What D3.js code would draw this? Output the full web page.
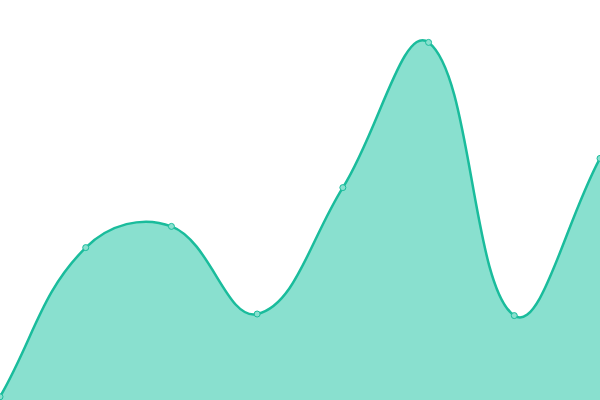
<!DOCTYPE html>
<html lang="en">
<head>
    <meta charset="utf-8">
    <title>Area chart</title>
    <script src="https://d3js.org/d3.v7.min.js"></script>
    <style>
        html, body { margin: 0; padding: 0; background: #fff; }
        svg { display: block; }
    </style>
</head>
<body>
    <svg width="600" height="400" id="chart"></svg>
    <script>
        // values, on a 0-100 scale
        var steps = [0, 1, 2, 3, 4, 5, 6, 7];
        var values = [0.8, 38.1, 43.4, 21.5, 53.1, 89.4, 21.1, 60.4];

        // spline with tension 0.4, control points weighted by the distance to the neighbours
        function SplineCurve(context) { this._context = context; }
        SplineCurve.prototype = {
            areaStart: function () { this._line = 0; },
            areaEnd: function () { this._line = NaN; },
            lineStart: function () { this._x = []; this._y = []; },
            point: function (x, y) { this._x.push(+x); this._y.push(+y); },
            lineEnd: function () {
                var x = this._x, y = this._y, n = x.length, ctx = this._context, t = 0.4, cp = [], i;
                if (n) {
                    if (this._line) ctx.lineTo(x[0], y[0]); else ctx.moveTo(x[0], y[0]);
                    for (i = 0; i < n; i++) {
                        var a = Math.max(i - 1, 0), b = Math.min(i + 1, n - 1);
                        var d01 = Math.hypot(x[i] - x[a], y[i] - y[a]),
                            d12 = Math.hypot(x[b] - x[i], y[b] - y[i]);
                        var fa = t * (d01 / (d01 + d12) || 0),
                            fb = t * (d12 / (d01 + d12) || 0);
                        cp.push({
                            px: x[i] - fa * (x[b] - x[a]), py: y[i] - fa * (y[b] - y[a]),
                            nx: x[i] + fb * (x[b] - x[a]), ny: y[i] + fb * (y[b] - y[a])
                        });
                    }
                    for (i = 1; i < n; i++) {
                        ctx.bezierCurveTo(cp[i - 1].nx, cp[i - 1].ny, cp[i].px, cp[i].py, x[i], y[i]);
                    }
                }
                if (this._line || (this._line !== 0 && n === 1)) ctx.closePath();
                this._line = 1 - this._line;
            }
        };
        function curveSpline(context) { return new SplineCurve(context); }

        var svg = d3.select("#chart"),
            width = +svg.attr("width"),
            height = +svg.attr("height");

        var data = steps.map(function (s, i) { return { step: s, value: values[i] }; });

        var xScale = d3.scaleLinear().domain(d3.extent(steps)).range([0, width]),
            yScale = d3.scaleLinear().domain([0, 100]).range([height, 0]);

        svg.append("path")
            .datum(data)
            .attr("fill", "#89e0cf")
            .attr("d", d3.area()
                .curve(curveSpline)
                .x(function (d) { return xScale(d.step); })
                .y0(height)
                .y1(function (d) { return yScale(d.value); })
            );

        svg.append("path")
            .datum(data)
            .attr("fill", "none")
            .attr("stroke", "#1abc9c")
            .attr("stroke-width", 2.5)
            .attr("d", d3.line()
                .curve(curveSpline)
                .x(function (d) { return xScale(d.step); })
                .y(function (d) { return yScale(d.value); })
            );

        svg.selectAll(".dot")
            .data(data)
            .enter().append("circle")
            .attr("class", "dot")
            .attr("r", 3)
            .attr("cx", function (d) { return xScale(d.step); })
            .attr("cy", function (d) { return yScale(d.value); })
            .attr("fill", "#89e0cf")
            .attr("stroke", "#1abc9c")
            .attr("stroke-width", 1);
    </script>
</body>
</html>
